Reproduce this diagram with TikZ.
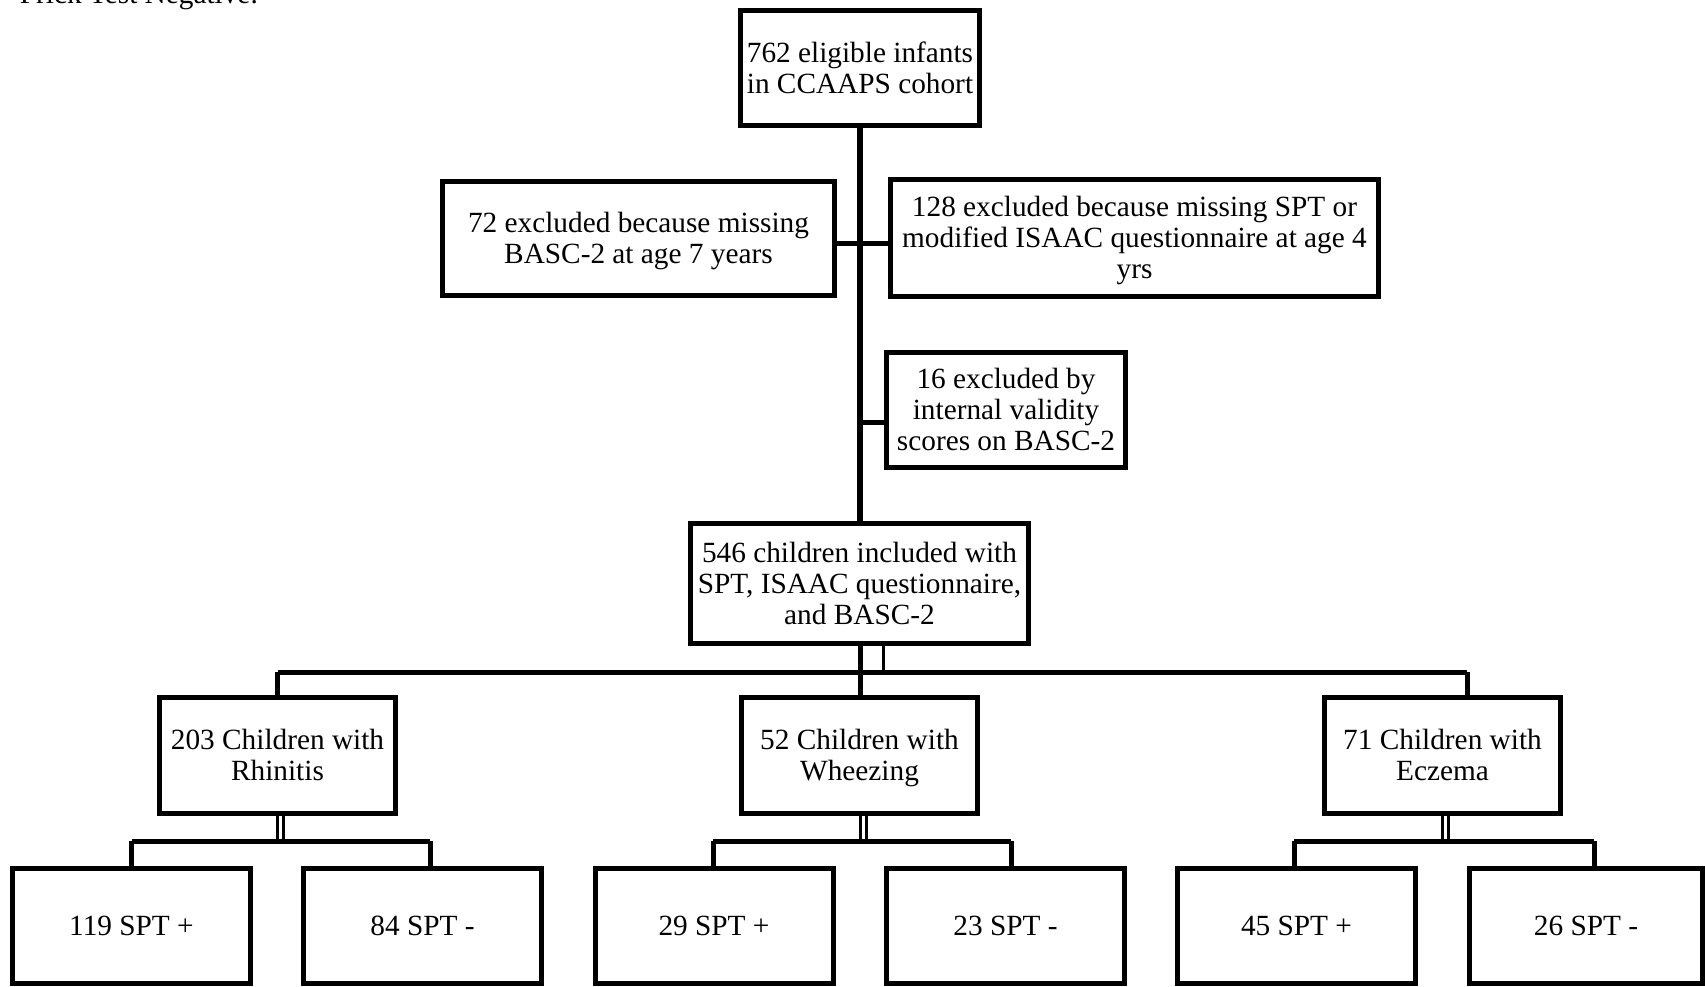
\documentclass[tikz,border=0pt]{standalone}
\usepackage{fontspec}
\setmainfont{Liberation Serif}
\newcommand\bstr{\rule{0pt}{26.4pt}}
\newcommand\estr{\rule[-7pt]{0pt}{7pt}}
\begin{document}
\begin{tikzpicture}[x=1pt,y=-1pt,
  box/.style={draw=black, line width=5pt, fill=white, inner sep=0pt, align=center,
    font=\fontsize{29.3}{31}\selectfont},
  sbox/.style={box, minimum width=238pt, minimum height=115pt},
  mbox/.style={box, minimum width=236pt, minimum height=116pt},
  conn/.style={line width=5pt, draw=black},
  trunk/.style={line width=6pt, draw=black},
  dbl/.style={line width=3pt, draw=black}]
\useasboundingbox (0,0) rectangle (1705,986);

% clipped note at top
\node[anchor=base east, inner sep=0pt, font=\fontsize{29.3}{31}\selectfont] (note) at (258,3) {Prick Test Negative.};

% nodes
\node[box, minimum width=239pt, minimum height=115pt] (top) at (860,68) {\bstr 762 eligible infants\\in CCAAPS cohort\estr};
\node[box, minimum width=392pt, minimum height=114pt] (b72) at (638.5,238.5) {\bstr 72 excluded because missing\\BASC-2 at age 7 years\estr};
\node[box, minimum width=488pt, minimum height=117pt] (b128) at (1134.5,238) {\bstr 128 excluded because missing SPT or\\modified ISAAC questionnaire at age 4\\yrs\estr};
\node[box, minimum width=239pt, minimum height=115pt] (b16) at (1006,410) {\bstr 16 excluded by\\internal validity\\scores on BASC-2\estr};
\node[box, minimum width=338pt, minimum height=120pt] (b546) at (859.5,583.5) {\bstr 546 children included with\\SPT, ISAAC questionnaire,\\and BASC-2\estr};

\node[mbox] (rhin) at (277.5,755.5) {\bstr 203 Children with\\Rhinitis\estr};
\node[mbox] (whz) at (859.5,755.5) {\bstr 52 Children with\\Wheezing\estr};
\node[mbox] (ecz) at (1442.5,755.5) {\bstr 71 Children with\\Eczema\estr};

\node[sbox] (r1) at (131.5,926) {\bstr 119 SPT +\estr};
\node[sbox] (r2) at (422.5,926) {\bstr 84 SPT -\estr};
\node[sbox] (w1) at (714,926) {\bstr 29 SPT +\estr};
\node[sbox] (w2) at (1005.5,926) {\bstr 23 SPT -\estr};
\node[sbox] (e1) at (1296.5,926) {\bstr 45 SPT +\estr};
\node[box, minimum width=233pt, minimum height=115pt] (e2) at (1586,926) {\bstr 26 SPT -\estr};

% junction coordinates
\coordinate (j1) at (860,243.5);
\coordinate (j2) at (860,422);
\coordinate (busL) at (277.5,672);
\coordinate (busR) at (1467,672);
\coordinate (busM) at (860,672);
\coordinate (busM2) at (883,672);
\coordinate (rb) at (280,841);
\coordinate (wb) at (863,841);
\coordinate (eb) at (1445.5,841);
\coordinate (rbL) at (131.5,841);
\coordinate (rbR) at (430,841);
\coordinate (wbL) at (713,841);
\coordinate (wbR) at (1011,841);
\coordinate (ebL) at (1294,841);
\coordinate (ebR) at (1594,841);

% trunk and side branches
\draw[trunk] (top.south -| j1) -- (b546.north -| j1);
\draw[conn] (b72.east |- j1) -- (j1) -- (b128.west |- j1);
\draw[conn] (j2) -- (b16.west |- j2);

% first bus
\draw[conn] (busL) -- (busR);
\draw[conn] (b546.south -| busM) -- (whz.north -| busM);
\draw[dbl] (b546.south -| busM2) -- (busM2);
\draw[conn] (busL) -- (rhin.north);
\draw[conn] (busR) -- (ecz.north -| busR);

% second level: double drops
\foreach \n/\c in {rhin/rb, whz/wb, ecz/eb}{
  \draw[dbl] ([xshift=-3pt]\n.south -| \c) -- ([xshift=-3pt]\c);
  \draw[dbl] ([xshift=3pt]\n.south -| \c) -- ([xshift=3pt]\c);
}

% second buses
\draw[conn] (rbL) -- (rbR);
\draw[conn] (wbL) -- (wbR);
\draw[conn] (ebL) -- (ebR);
\draw[conn] (rbL) -- (r1.north -| rbL);
\draw[conn] (rbR) -- (r2.north -| rbR);
\draw[conn] (wbL) -- (w1.north -| wbL);
\draw[conn] (wbR) -- (w2.north -| wbR);
\draw[conn] (ebL) -- (e1.north -| ebL);
\draw[conn] (ebR) -- (e2.north -| ebR);
\end{tikzpicture}
\end{document}
